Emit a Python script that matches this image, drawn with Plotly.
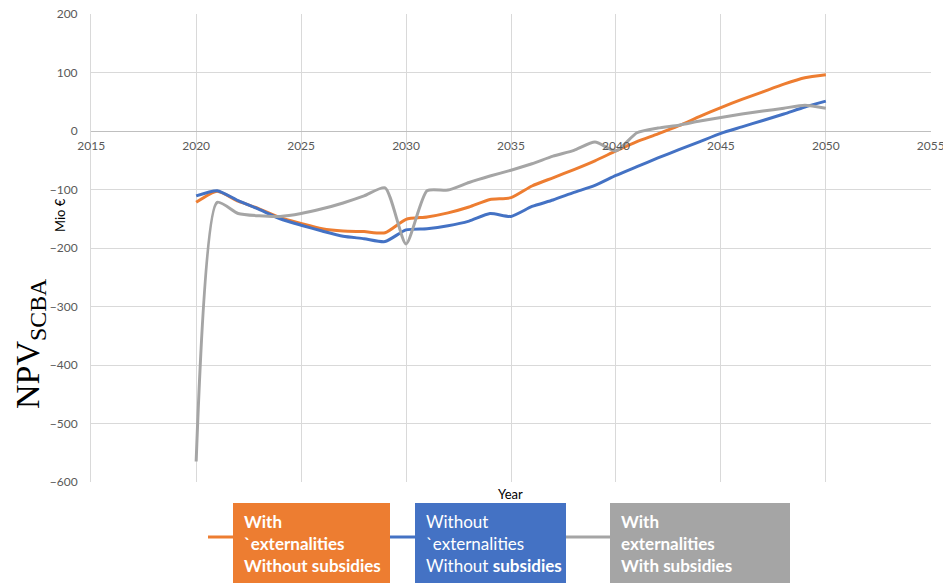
import plotly.graph_objects as go

years = list(range(2020, 2051))
with_ext_without_sub = [-122, -103, -120, -133, -148, -158, -167, -171, -172, -174, -151, -147, -140, -130, -117, -114,
                        -94, -80, -66, -51, -34, -18, -5, 9, 25, 40, 54, 67, 80, 91, 96]
without_ext_without_sub = [-111, -102, -119, -134, -150, -161, -171, -180, -184, -189, -169, -167, -162, -154, -141, -146,
                           -129, -118, -105, -93, -76, -61, -46, -32, -18, -4, 7, 18, 29, 41, 51]
with_ext_with_sub = [-565, -122, -141, -145, -146, -141, -133, -123, -111, -97, -193, -102, -101, -88, -77, -67,
                     -56, -43, -33, -19, -34, -3, 5, 10, 17, 23, 29, 34, 39, 44, 39]

series_names = ["With externalities Without subsidies",
                "Without externalities Without subsidies",
                "With externalities With subsidies"]
legend_labels = ["<b>With<br>`externalities<br>Without subsidies</b>",
                 "Without<br>`externalities<br>Without <b>subsidies</b>",
                 "<b>With<br>externalities<br>With subsidies</b>"]
colors = ["#ED7D31", "#4472C4", "#A5A5A5"]
x_ticks = [2015, 2020, 2025, 2030, 2035, 2040, 2045, 2050, 2055]
y_ticks = [200, 100, 0, -100, -200, -300, -400, -500, -600]

fig = go.Figure()
for name, vals, col in zip(series_names, [with_ext_without_sub, without_ext_without_sub, with_ext_with_sub], colors):
    fig.add_trace(go.Scatter(x=years, y=vals, mode="lines", name=name,
                             line=dict(color=col, width=3, shape="spline", smoothing=0.6),
                             showlegend=False))

# plot area in pixels: left 91, right 931, top 14, bottom 482
L, R, T, B = 91, 931, 14, 482
W, H = 943, 583
def xp(px):
    return (px - L) / (R - L)
def yp(py):
    return (B - py) / (B - T)

tick_font = dict(family="Lato, 'Open Sans', sans-serif", size=12, color="#595959")
fig.update_layout(
    width=W, height=H,
    margin=dict(l=L, r=W - R, t=T, b=H - B, autoexpand=False),
    paper_bgcolor="white", plot_bgcolor="white",
    xaxis=dict(range=[2014.99, 2055.01], tickvals=x_ticks, showgrid=True, gridcolor="#D9D9D9", gridwidth=1,
               anchor="free", position=0.75, showline=False, ticklabeloverflow="allow", automargin=False,
               ticks="outside", ticklen=4, tickcolor="rgba(0,0,0,0)", tickfont=tick_font, zeroline=False),
    yaxis=dict(range=[-600, 200], tickvals=y_ticks, showgrid=True, gridcolor="#D9D9D9", gridwidth=1,
               showline=True, linecolor="#D9D9D9", linewidth=1, zeroline=True, zerolinecolor="#BFBFBF",
               zerolinewidth=1, automargin=False,
               ticks="outside", ticklen=10, tickcolor="rgba(0,0,0,0)", tickfont=tick_font),
)

annotations = [
    dict(text="Year", x=xp(510), y=yp(494), xref="paper", yref="paper", showarrow=False,
         font=dict(family="Lato, sans-serif", size=13, color="#000000"), xanchor="center", yanchor="middle"),
    dict(text="Mio €", x=xp(60), y=yp(215), xref="paper", yref="paper", showarrow=False, textangle=-90,
         font=dict(family="Lato, sans-serif", size=13, color="#000000"), xanchor="center", yanchor="middle"),
    dict(text="NPV<sub>SCBA</sub>", x=xp(30), y=yp(343), xref="paper", yref="paper", showarrow=False, textangle=-90,
         font=dict(family="'Liberation Serif', 'DejaVu Serif', serif", size=34, color="#000000"),
         xanchor="center", yanchor="middle"),
]

shapes = []
boxes = [(233, 390), (415, 566), (610, 790)]
line_samples = [(208, 233), (390, 415), (566, 610)]
for (bx0, bx1), (lx0, lx1), col, lab in zip(boxes, line_samples, colors, legend_labels):
    shapes.append(dict(type="line", xref="paper", yref="paper", x0=xp(lx0), x1=xp(lx1), y0=yp(537), y1=yp(537),
                       line=dict(color=col, width=3)))
    shapes.append(dict(type="rect", xref="paper", yref="paper", x0=xp(bx0), x1=xp(bx1), y0=yp(503), y1=yp(583),
                       fillcolor=col, line=dict(width=0), layer="above"))
    annotations.append(dict(text=lab, x=xp(bx0 + 9), y=yp(543), xref="paper", yref="paper", showarrow=False,
                            align="left", xanchor="left", yanchor="middle",
                            font=dict(family="Lato, sans-serif", size=17, color="white")))

fig.update_layout(shapes=shapes, annotations=annotations)
fig.write_html("out.html")
